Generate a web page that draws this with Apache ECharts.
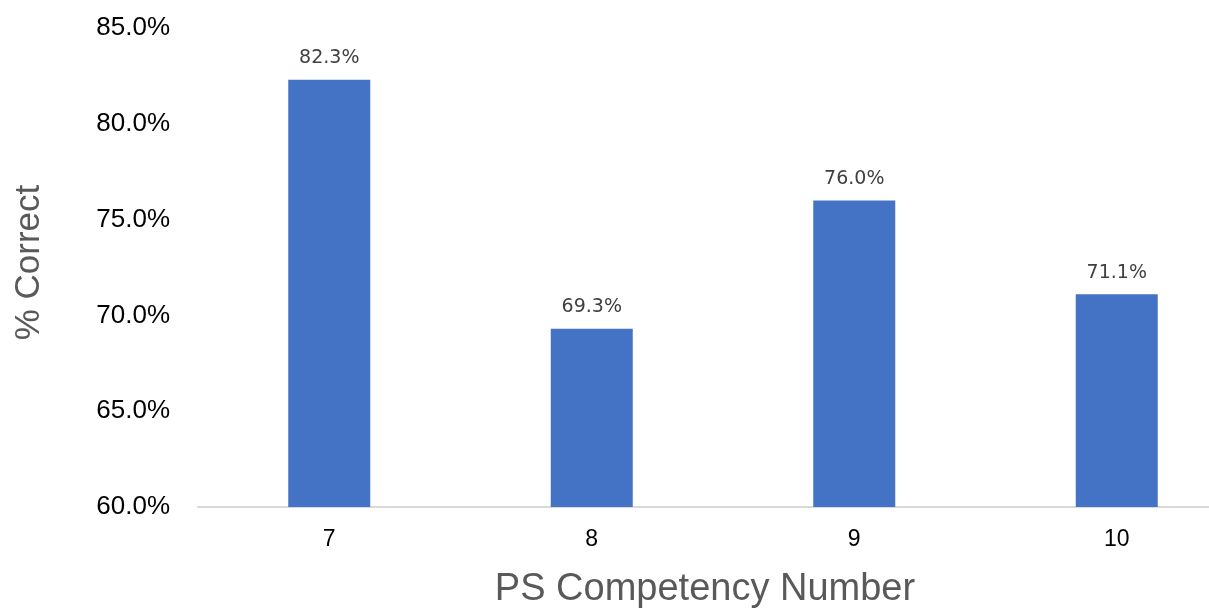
<!DOCTYPE html>
<html>
<head>
<meta charset="utf-8">
<script src="https://cdn.jsdelivr.net/npm/echarts@6/dist/echarts.min.js"></script>
<style>
  html, body { margin: 0; padding: 0; background: #fff; }
  #chart { width: 1209px; height: 609px; }
</style>
</head>
<body>
<div id="chart"></div>
<script>
// PS competency categories
var categories = ['7', '8', '9', '10'];
// % correct per competency
var percentCorrect = [82.3, 69.3, 76.0, 71.1];
// y axis range (ticks every 5%)
var yMin = 60, yMax = 85, yStep = 5;

var chart = echarts.init(document.getElementById('chart'));

var option = {
  animation: false,
  grid: {
    left: 198,
    width: 1050,
    top: 28,
    bottom: 102,
    containLabel: false,
    outerBoundsMode: 'none'
  },
  xAxis: {
    type: 'category',
    data: categories,
    name: 'PS Competency Number',
    nameLocation: 'middle',
    nameGap: 64,
    nameTextStyle: {
      color: '#595959',
      fontSize: 38,
      fontFamily: 'Liberation Sans',
      padding: [0, 36, 0, 0]
    },
    axisLine: { lineStyle: { color: '#d9d9d9', width: 2 } },
    axisTick: { show: false },
    axisLabel: {
      color: '#000',
      fontSize: 23,
      fontFamily: 'Liberation Sans',
      margin: 21
    }
  },
  yAxis: {
    type: 'value',
    min: yMin,
    max: yMax,
    interval: yStep,
    name: '% Correct',
    nameLocation: 'middle',
    nameGap: 151,
    nameRotate: 90,
    nameTextStyle: {
      color: '#595959',
      fontSize: 35,
      fontFamily: 'Liberation Sans',
      padding: [0, 0, 0, 10]
    },
    axisLine: { show: false },
    axisTick: { show: false },
    splitLine: { show: false },
    axisLabel: {
      color: '#000',
      fontSize: 26,
      fontFamily: 'Liberation Sans',
      margin: 28,
      formatter: function (v) { return v.toFixed(1) + '%'; }
    }
  },
  series: [{
    type: 'bar',
    data: percentCorrect,
    barWidth: 82,
    itemStyle: { color: '#4472c4' },
    label: {
      show: true,
      position: 'top',
      distance: 12,
      color: '#404040',
      fontSize: 19,
      fontFamily: 'DejaVu Sans',
      formatter: function (p) { return p.value.toFixed(1) + '%'; }
    }
  }]
};

chart.setOption(option);
</script>
</body>
</html>
